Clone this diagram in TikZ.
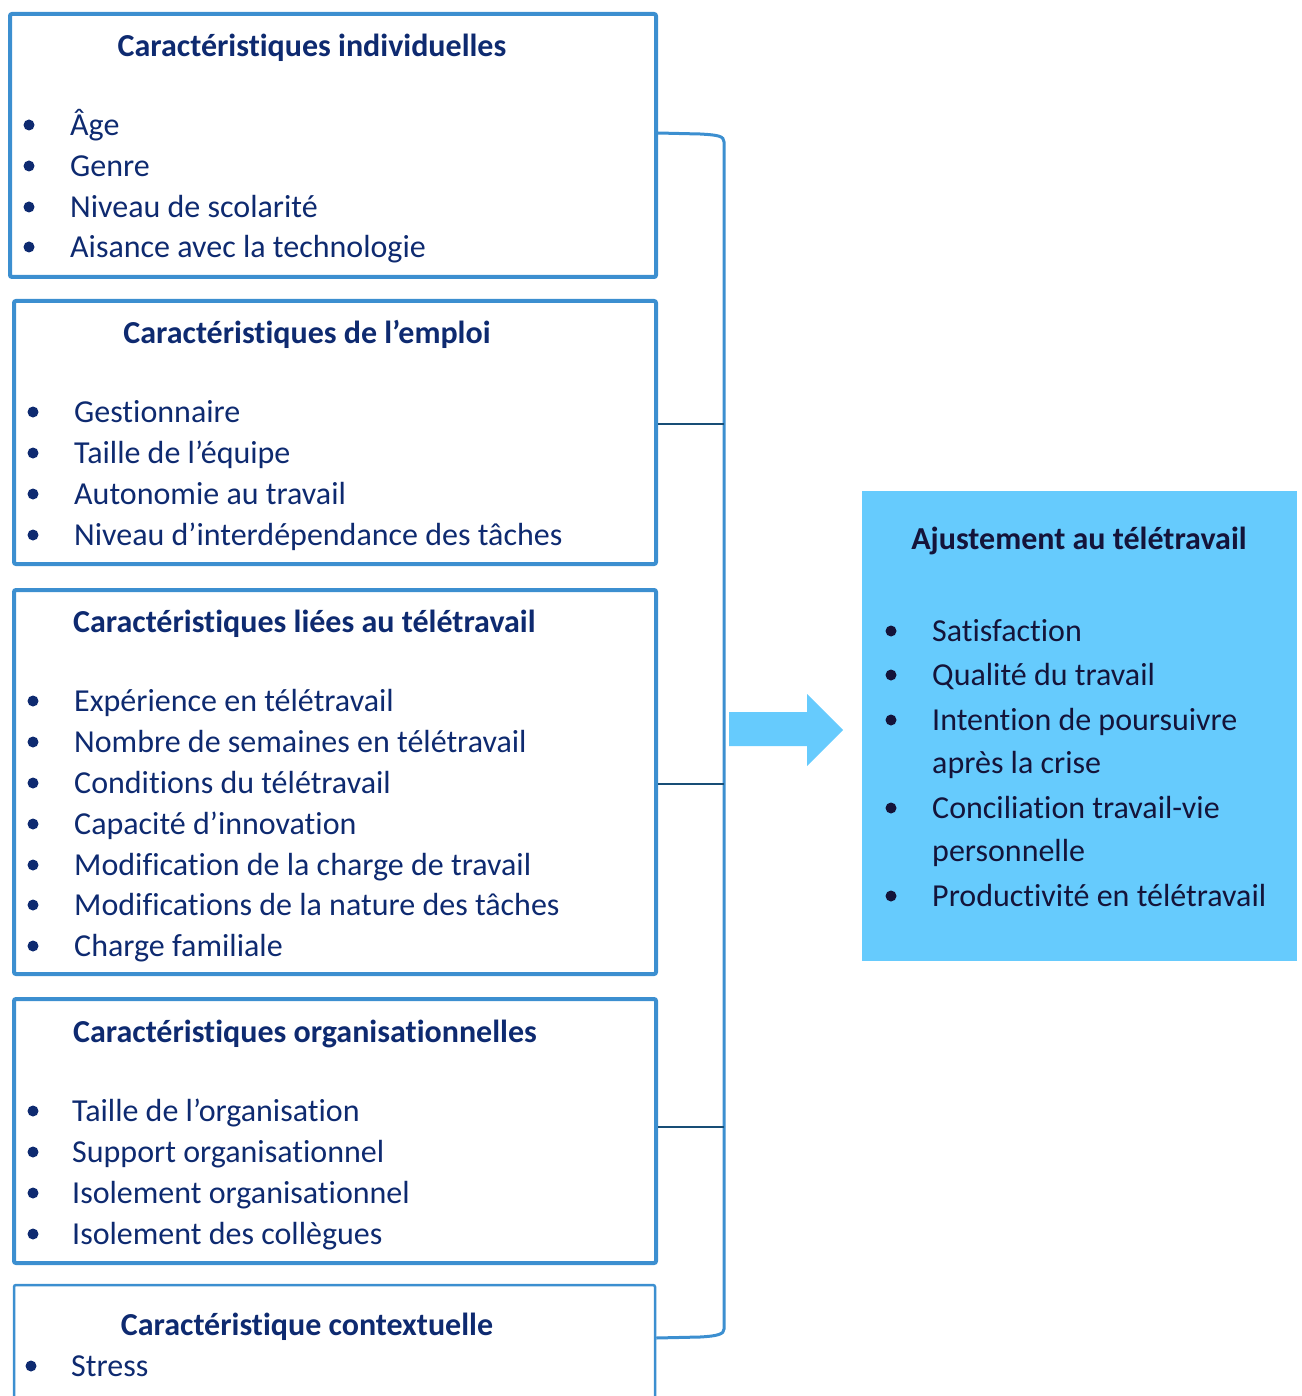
\documentclass[tikz,border=0pt]{standalone}
\usepackage{fontspec}
\setmainfont{Carlito}[Ligatures={NoCommon}]
\usetikzlibrary{calc}
\definecolor{boxblue}{RGB}{60,143,208}
\definecolor{navy}{RGB}{14,42,112}
\definecolor{darkink}{RGB}{20,20,58}
\definecolor{skyfill}{RGB}{102,203,253}
\definecolor{linkdark}{RGB}{24,78,118}
\begin{document}
\begin{tikzpicture}[x=1pt,y=-1pt,
  catbox/.style={draw=boxblue,line width=4pt,rounded corners=2pt,inner sep=0pt},
  ttl/.style={font=\fontsize{32}{38}\selectfont\bfseries,text=navy,anchor=base,inner sep=0pt,yshift=-10.5pt},
  itm/.style={font=\fontsize{32}{38}\selectfont,text=navy,anchor=base west,inner sep=0pt,yshift=-10.5pt},
  gttl/.style={font=\fontsize{32}{38}\selectfont\bfseries,text=darkink,anchor=base,inner sep=0pt,yshift=-10.5pt},
  gitm/.style={font=\fontsize{32}{38}\selectfont,text=darkink,anchor=base west,inner sep=0pt,yshift=-10.5pt},
  link/.style={draw=linkdark,line width=2.5pt},
  spine/.style={draw=boxblue,line width=3pt}]
\useasboundingbox (0,0) rectangle (1301,1396);

% boxes
\node[catbox,minimum width=646pt,minimum height=263pt] (b1) at (333,145.5) {};
\node[catbox,minimum width=642pt,minimum height=263pt] (b2) at (335,432.5) {};
\node[catbox,minimum width=642pt,minimum height=384pt] (b3) at (335,782) {};
\node[catbox,minimum width=642pt,minimum height=264pt] (b4) at (335,1131) {};
\node[catbox,line width=2.5pt,minimum width=641pt,minimum height=150pt] (b5) at (334.5,1360) {};

% box 1
\node[ttl] (t1) at (312,46) {Caractéristiques individuelles};
\foreach \y/\t [count=\i] in {125/Âge,166/Genre,207/Niveau de scolarité,247/Aisance avec la technologie}{
  \fill[navy] (29,\y) circle (5.5);
  \node[itm] (i1-\i) at (70,\y) {\t};
}
% box 2
\node[ttl] (t2) at (307,333) {Caractéristiques de l’emploi};
\foreach \y/\t [count=\i] in {412/Gestionnaire,453/Taille de l’équipe,494/Autonomie au travail,535/Niveau d’interdépendance des tâches}{
  \fill[navy] (33,\y) circle (5.5);
  \node[itm] (i2-\i) at (74,\y) {\t};
}
% box 3
\node[ttl,anchor=base west] (t3) at (73,622) {Caractéristiques liées au télétravail};
\foreach \y/\t [count=\i] in {701/Expérience en télétravail,742/Nombre de semaines en télétravail,783/Conditions du télétravail,824/Capacité d’innovation,865/Modification de la charge de travail,905/Modifications de la nature des tâches,946/Charge familiale}{
  \fill[navy] (33,\y) circle (5.5);
  \node[itm] (i3-\i) at (74,\y) {\t};
}
% box 4
\node[ttl,anchor=base west] (t4) at (73,1032) {Caractéristiques organisationnelles};
\foreach \y/\t [count=\i] in {1111/Taille de l’organisation,1152/Support organisationnel,1193/Isolement organisationnel,1234/Isolement des collègues}{
  \fill[navy] (33,\y) circle (5.5);
  \node[itm] (i4-\i) at (72,\y) {\t};
}
% box 5
\node[ttl] (t5) at (307,1325) {Caractéristique contextuelle};
\fill[navy] (31,1366) circle (5.5);
\node[itm] (i5-1) at (71,1366) {Stress};

% bracket
\coordinate (sTop) at (724,142);
\coordinate (sBot) at (724,1329);
\draw[spine] (b1.east |- {(0,133)}) -- (700,134) .. controls (718,135) and (724,136) .. (sTop) -- (sBot)
  .. controls (724,1334) and (718,1336) .. (700,1337) -- (b5.east |- {(0,1338)});
\draw[link] (b2.east |- {(0,424)}) -- (sTop |- {(0,424)});
\draw[link] (b3.east |- {(0,784)}) -- (sTop |- {(0,784)});
\draw[link] (b4.east |- {(0,1127)}) -- (sTop |- {(0,1127)});

% arrow
\fill[skyfill] (729,712) -- (807,712) -- (807,694) -- (843,730) -- (807,766) -- (807,746) -- (729,746) -- cycle;

% goal box
\node[fill=skyfill,minimum width=435pt,minimum height=470pt,inner sep=0pt] (goal) at (1079.5,726) {};
\node[gttl] (gt) at (1079,539) {Ajustement au télétravail};
\foreach \y/\t [count=\i] in {631/Satisfaction,675/Qualité du travail,720/Intention de poursuivre,808/Conciliation travail-vie,896/Productivité en télétravail}{
  \fill[darkink] (891,\y) circle (5.5);
  \node[gitm] (g\i) at (932,\y) {\t};
}
\node[gitm] (g3b) at (932,763) {après la crise};
\node[gitm] (g4b) at (932,851) {personnelle};
\end{tikzpicture}
\end{document}
